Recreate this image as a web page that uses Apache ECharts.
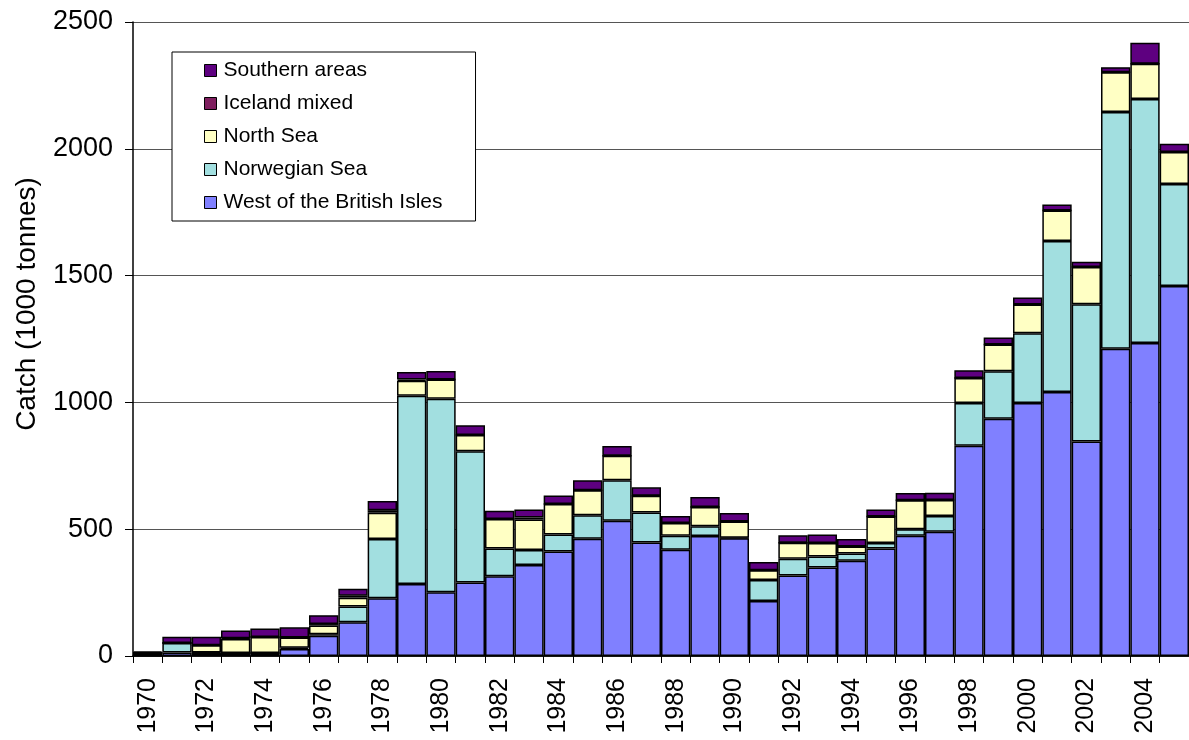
<!DOCTYPE html>
<html>
<head>
<meta charset="utf-8">
<title>Catch by area</title>
<script src="https://cdn.jsdelivr.net/npm/echarts@6/dist/echarts.min.js"></script>
<style>
  html, body { margin: 0; padding: 0; background: #fff; }
  #chart { width: 1189px; height: 740px; }
</style>
</head>
<body>
<div id="chart"></div>
<script>
// years 1970..2005
const years = [];
for (let y = 1970; y <= 2005; y++) years.push(String(y));

// catch in 1000 tonnes
const westBritishIsles = [2, 14, 12, 12, 12, 28, 80, 133, 228, 284, 251, 290, 314, 359, 412, 462, 533, 448, 419, 473,
  464, 217, 317, 349, 376, 424, 474, 490, 829, 936, 998, 1041, 846, 1212, 1234, 1459]
const norwegianSea = [11, 37, 2, 0, 0, 5, 6, 62, 233, 742, 763, 517, 110, 59, 67, 93, 160, 118, 55, 39,
  2, 83, 66, 43, 28, 22, 26, 62, 169, 187, 275, 595, 541, 933, 962, 402]
const northSea = [0, 0, 28, 55, 63, 40, 34, 35, 104, 59, 76, 64, 116, 120, 120, 99, 97, 66, 50, 76,
  64, 38, 64, 54, 28, 104, 114, 63, 98, 105, 113, 121, 147, 157, 139, 126]
const icelandMixed = [0, 0, 0, 3, 0, 0, 6, 8, 10, 5, 0, 0, 0, 8, 0, 0, 0, 0, 0, 0,
  0, 0, 0, 0, 0, 0, 0, 0, 0, 0, 0, 0, 0, 0, 0, 0]
const southernAreas = [5, 25, 34, 31, 33, 40, 35, 27, 36, 30, 34, 39, 33, 32, 34, 39, 38, 33, 28, 39,
  34, 33, 29, 33, 29, 28, 29, 29, 31, 28, 28, 23, 21, 20, 83, 33]

const yTicks = { min: 0, max: 2500, interval: 500 }

const FONT = '"Liberation Sans", Arial, sans-serif'

const seriesDefs = [
  { name: 'West of the British Isles', data: westBritishIsles, color: '#8080ff' },
  { name: 'Norwegian Sea', data: norwegianSea, color: '#a2dfe0' },
  { name: 'North Sea', data: northSea, color: '#ffffc4' },
  { name: 'Iceland mixed', data: icelandMixed, color: '#7f1f5f' },
  { name: 'Southern areas', data: southernAreas, color: '#5e0080' },
]

const chart = echarts.init(document.getElementById('chart'), null, { renderer: 'canvas' })

chart.setOption({
  animation: false,
  backgroundColor: '#fff',
  textStyle: { fontFamily: FONT },
  grid: { left: 133, right: 0, top: 22, bottom: 84 },
  legend: {
    orient: 'vertical',
    left: 172,
    top: 52,
    data: seriesDefs.map(s => s.name).reverse(),
    icon: 'rect',
    itemWidth: 12,
    itemHeight: 12,
    itemGap: 12,
    padding: [8, 33, 8, 32],
    backgroundColor: '#fff',
    borderColor: '#000',
    borderWidth: 1,
    itemStyle: { borderColor: '#000', borderWidth: 1 },
    textStyle: { fontSize: 21, color: '#000', fontFamily: FONT, lineHeight: 21, padding: [0, 0, 0, 2] },
  },
  xAxis: {
    type: 'category',
    data: years,
    boundaryGap: true,
    axisLine: { lineStyle: { color: '#000', width: 1.5 } },
    axisTick: { show: true, interval: 0, length: 7, lineStyle: { color: '#000' } },
    axisLabel: { interval: 1, rotate: 90, fontSize: 25, color: '#000', margin: 22, fontFamily: FONT },
  },
  yAxis: {
    type: 'value',
    min: yTicks.min,
    max: yTicks.max,
    interval: yTicks.interval,
    name: 'Catch (1000 tonnes)',
    nameLocation: 'middle',
    nameGap: 92,
    nameTextStyle: { fontSize: 28, color: '#000', fontFamily: FONT, padding: [0, 0, 0, 70] },
    axisLine: { show: true, lineStyle: { color: '#000', width: 1.5 } },
    axisTick: { show: true, length: 8, lineStyle: { color: '#000' } },
    axisLabel: { fontSize: 27, color: '#000', margin: 20, fontFamily: FONT, formatter: v => String(v) },
    splitLine: { lineStyle: { color: '#555', width: 1 } },
  },
  series: seriesDefs.map(s => ({
    name: s.name,
    type: 'bar',
    stack: 'catch',
    data: s.data,
    barCategoryGap: '0%',
    itemStyle: { color: s.color, borderColor: '#000', borderWidth: 1.5 },
  })),
})
</script>
</body>
</html>
